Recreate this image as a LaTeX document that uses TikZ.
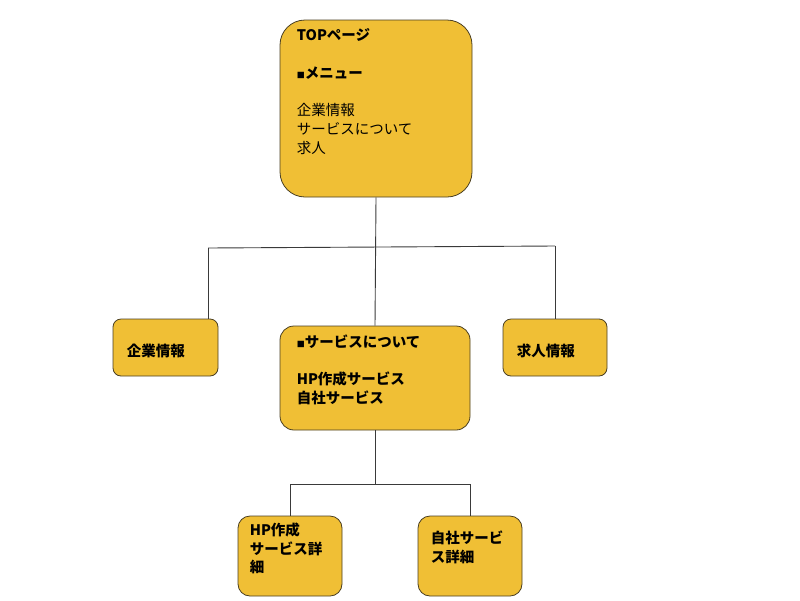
\documentclass[tikz,border=0pt]{standalone}
\usepackage{fontspec}
\setmainfont{Noto Sans CJK JP}
\usetikzlibrary{positioning}
\definecolor{pagegold}{HTML}{F0BF35}
\definecolor{pageedge}{HTML}{4A3F22}
\definecolor{wire}{HTML}{3A3A3A}
\newcommand{\smallsq}{{\fontsize{8}{8}\selectfont ■}}

\begin{document}
\begin{tikzpicture}[x=1pt,y=-1pt,font=\fontsize{14.5}{18.7}\selectfont,
  pagebox/.style={draw=pageedge,fill=pagegold,line width=0.8pt,rounded corners=#1},
  pagebox/.default=8pt,
  pagetext/.style={inner sep=0pt,align=left,anchor=north west},
  link/.style={draw=wire,line width=0.9pt}]
\useasboundingbox (0,0) rectangle (800,600);
% page boxes
\node[pagebox=25pt,minimum width=192pt,minimum height=177pt] (top) at (376,108.5) {};
\node[pagebox,minimum width=105pt,minimum height=57pt] (kigyo) at (165.5,347.5) {};
\node[pagebox=14pt,minimum width=190pt,minimum height=104pt] (service) at (375,378) {};
\node[pagebox,minimum width=104pt,minimum height=57pt] (kyujin) at (555,347.5) {};
\node[pagebox=12pt,minimum width=104pt,minimum height=80pt] (hpdetail) at (290,556) {};
\node[pagebox=12pt,minimum width=104pt,minimum height=80pt] (jisha) at (470,556) {};
% texts
\node[pagetext,below right=9pt and 17pt of top.north west] (topText) {\textbf{TOPページ}\\[18.7pt]\textbf{\smallsq メニュー}\\[18.7pt]企業情報\\サービスについて\\求人};
\node[pagetext,below right=25pt and 14pt of kigyo.north west] (kigyoText) {\textbf{企業情報}};
\node[pagetext,below right=9pt and 17pt of service.north west] (serviceText) {\textbf{\smallsq サービスについて}\\[18.7pt]\textbf{HP作成サービス}\\\textbf{自社サービス}};
\node[pagetext,below right=25pt and 14pt of kyujin.north west] (kyujinText) {\textbf{求人情報}};
\node[pagetext,below right=7pt and 12pt of hpdetail.north west] (hpText) {\textbf{HP作成}\\\textbf{サービス詳}\\\textbf{細}};
\node[pagetext,below right=15pt and 13pt of jisha.north west] (jishaText) {\textbf{自社サービ}\\\textbf{ス詳細}};
% tree lines
\coordinate (busL) at (208,248);
\coordinate (busR) at (555,246);
\coordinate (subL) at (290,484);
\coordinate (subR) at (470,484);
\draw[link] (top.south) -- (service.north);
\draw[link] (busL) -- (busR);
\draw[link] (busL) -- (busL |- kigyo.north);
\draw[link] (busR) -- (kyujin.north);
\draw[link] (service.south) -- (service.south |- subL);
\draw[link] (subL) -- (subR);
\draw[link] (subL) -- (hpdetail.north);
\draw[link] (subR) -- (jisha.north);
\end{tikzpicture}
\end{document}
